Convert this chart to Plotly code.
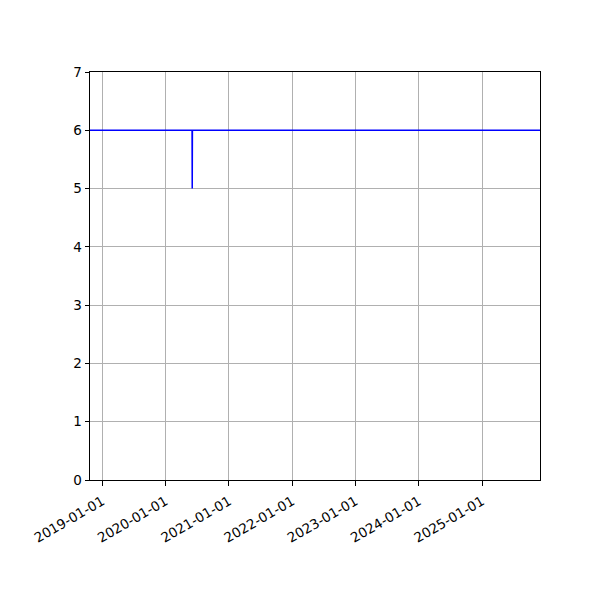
import plotly.graph_objects as go

dates = ["2018-10-22", "2020-06-02", "2020-06-03", "2020-06-04", "2025-12-01"]
values = [6, 6, 5, 6, 6]
x_range = ["2018-10-22", "2025-12-01"]
y_range = [0, 7]

fig = go.Figure()
fig.add_trace(go.Scatter(x=dates, y=values, mode="lines",
                         line=dict(color="#0000ff", width=1.5), showlegend=False))

axis_common = dict(
    showline=True, linecolor="black", linewidth=1, mirror=True,
    ticks="outside", ticklen=4.5, tickwidth=1, tickcolor="black",
    showgrid=True, gridcolor="#b0b0b0", gridwidth=1, zeroline=False,
    tickfont=dict(family="DejaVu Sans", size=13.5, color="black"),
)

fig.update_layout(
    width=600, height=600,
    margin=dict(l=82, r=68, t=64, b=128),
    paper_bgcolor="white", plot_bgcolor="white",
    xaxis=dict(type="date", range=x_range, tick0="2019-01-01", dtick="M12",
               tickformat="%Y-%m-%d", tickangle=-30, ticklabelstandoff=3,
               **axis_common),
    yaxis=dict(range=y_range, dtick=1, **axis_common),
)

fig.write_html("out.html")
